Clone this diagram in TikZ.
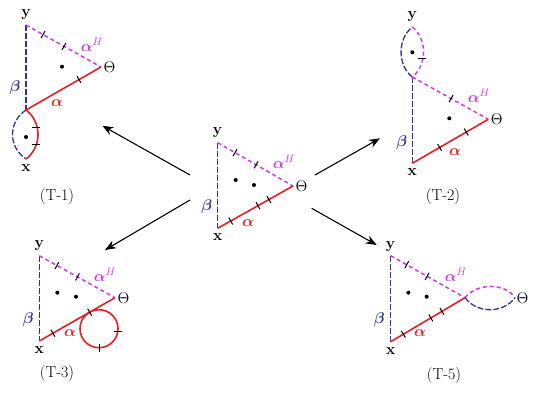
\RequirePackage{fix-cm}
\documentclass[tikz,border=0pt]{standalone}
\usepackage{amsmath}
\usepackage{amsfonts}
\usepackage{bm}
\usetikzlibrary{arrows,arrows.meta,calc,positioning}

\definecolor{alphared}{RGB}{232,30,38}
\definecolor{hmag}{RGB}{204,60,222}
\definecolor{betablue}{RGB}{50,50,150}

% tick across the segment #1--#2 at position #3
\newcommand{\tk}[3]{\draw[tickmk] ($(#1)!#3!(#2)!4pt!90:(#2)$) -- ($(#1)!#3!(#2)!4pt!-90:(#2)$);}

\begin{document}
\begin{tikzpicture}[x=1pt, y=-1pt, ->, >={Stealth[length=11pt, width=8.5pt]}, line width=1.1pt]
 % Define styles
	\tikzstyle{aedge} = [-, draw=alphared, line width=1.6pt]
	\tikzstyle{hedge} = [-, draw=hmag, line width=1.5pt, dash pattern=on 4pt off 3pt]
	\tikzstyle{bedge} = [-, draw=betablue, line width=1.3pt, dash pattern=on 6pt off 2pt]
	\tikzstyle{tickmk} = [-, draw=black, line width=1pt]
	\tikzstyle{dotpt} = [circle, fill=black, inner sep=0pt, minimum size=4pt]
	\tikzstyle{lbl} = [inner sep=0pt, font=\fontsize{15.5}{18}\selectfont]
	\tikzstyle{tcap} = [inner sep=0pt, font=\fontsize{16}{19}\selectfont]
	\useasboundingbox (0,0) rectangle (540,400);
%%====centre===============================================================
	\coordinate (cy) at (217.7,142.7);
	\coordinate (cx) at (217.7,228.3);
	\coordinate (ct) at (293,186);
	\draw[bedge] (cy) -- (cx);
	\draw[hedge] (cy) -- (ct);
	\draw[aedge] (cx) -- (ct);
	\tk{cy}{ct}{0.23} \tk{cy}{ct}{0.51}
	\tk{cx}{ct}{0.173} \tk{cx}{ct}{0.535} \tk{cx}{ct}{0.68}
	\node[dotpt] (cd1) at (235.7,180) {};
	\node[dotpt] (cd2) at (254,185) {};
	\node[lbl] (lcy) at (217.7,133) {$\mathbf{y}$};
	\node[lbl] (lcx) at (217.7,237) {$\mathbf{x}$};
	\node[lbl, right=2pt of ct] (lct) {$\Theta$};
	\node[lbl, text=hmag] (lch) at (284,162) {$\bm{\alpha}^H$};
	\node[lbl, text=betablue] (lcb) at (206.7,207) {$\bm{\beta}$};
	\node[lbl, text=alphared] (lca) at (248,223) {$\bm{\alpha}$};
%%====T-1===============================================================
	\coordinate (y1) at (26,25);
	\coordinate (j1) at (26,110);
	\coordinate (x1) at (26,159);
	\coordinate (t1) at (101,67);
	\draw[bedge] (y1) -- (j1);
	\draw[hedge] (y1) -- (t1);
	\draw[aedge] (j1) -- (t1);
	\draw[bedge] (j1) .. controls +(-18,12) and +(-18,-12) .. (x1);
	\draw[aedge] (j1) .. controls +(16,12) and +(16,-12) .. (x1);
	\tk{y1}{t1}{0.227} \tk{y1}{t1}{0.507}
	\tk{j1}{t1}{0.707}
	\draw[tickmk] (35.5,127) +(-4,0) -- +(4,0);
	\draw[tickmk] (35.5,144) +(-4,0) -- +(4,0);
	\node[dotpt] (d1a) at (62,66.7) {};
	\node[dotpt] (d1b) at (26,137) {};
	\node[lbl] (ly1) at (26,15) {$\mathbf{y}$};
	\node[lbl] (lx1) at (26,168) {$\mathbf{x}$};
	\node[lbl, right=2pt of t1] (lt1) {$\Theta$};
	\node[lbl, text=hmag] (lh1) at (92,45) {$\bm{\alpha}^H$};
	\node[lbl, text=betablue] (lb1) at (15,88) {$\bm{\beta}$};
	\node[lbl, text=alphared] (la1) at (57,103) {$\bm{\alpha}$};
	\node[tcap] (cap1) at (57,197) {(T-1)};
%%====T-2===============================================================
	\coordinate (y2) at (412.3,27);
	\coordinate (j2) at (412.3,77);
	\coordinate (x2) at (412.3,163.3);
	\coordinate (t2) at (488.3,119.3);
	\draw[bedge] (j2) -- (x2);
	\draw[hedge] (j2) -- (t2);
	\draw[aedge] (x2) -- (t2);
	\draw[bedge] (j2) .. controls +(-15,-12) and +(-15,12) .. (y2);
	\draw[hedge] (y2) .. controls +(15,12) and +(15,-12) .. (j2);
	\tk{j2}{t2}{0.51}
	\tk{x2}{t2}{0.36} \tk{x2}{t2}{0.71}
	\draw[tickmk] (422,58) +(-4,0) -- +(4,0);
	\node[dotpt] (d2a) at (449.3,118.3) {};
	\node[dotpt] (d2b) at (412.3,52.3) {};
	\node[lbl] (ly2) at (412.3,16.7) {$\mathbf{y}$};
	\node[lbl] (lx2) at (412.3,172) {$\mathbf{x}$};
	\node[lbl, right=2pt of t2] (lt2) {$\Theta$};
	\node[lbl, text=hmag] (lh2) at (479,96) {$\bm{\alpha}^H$};
	\node[lbl, text=betablue] (lb2) at (401.7,142.7) {$\bm{\beta}$};
	\node[lbl, text=alphared] (la2) at (455,151.7) {$\bm{\alpha}$};
	\node[tcap] (cap2) at (443,197) {(T-2)};
%%====T-3===============================================================
	\coordinate (y3) at (39.3,255.7);
	\coordinate (x3) at (39.3,341);
	\coordinate (t3) at (115,297.7);
	\coordinate (o3) at (99,328.7);
	\draw[bedge] (y3) -- (x3);
	\draw[hedge] (y3) -- (t3);
	\draw[aedge] (x3) -- (t3);
	\draw[aedge] (o3) circle[radius=19pt];
	\tk{y3}{t3}{0.233} \tk{y3}{t3}{0.504}
	\tk{x3}{t3}{0.18} \tk{x3}{t3}{0.665}
	\draw[tickmk] (117.8,331) +(-4,0) -- +(4,0);
	\draw[tickmk] (99,347.7) +(0,-4) -- +(0,4);
	\node[dotpt] (d3a) at (57.3,292.7) {};
	\node[dotpt] (d3b) at (76,296.7) {};
	\node[lbl] (ly3) at (39.3,245.7) {$\mathbf{y}$};
	\node[lbl] (lx3) at (39.3,350) {$\mathbf{x}$};
	\node[lbl, right=2pt of t3] (lt3) {$\Theta$};
	\node[lbl, text=hmag] (lh3) at (105,275) {$\bm{\alpha}^H$};
	\node[lbl, text=betablue] (lb3) at (28.3,320) {$\bm{\beta}$};
	\node[lbl, text=alphared] (la3) at (70,333.3) {$\bm{\alpha}$};
	\node[tcap] (cap3) at (57,373) {(T-3)};
%%====T-5===============================================================
	\coordinate (y5) at (390.7,255.7);
	\coordinate (x5) at (390.7,341.7);
	\coordinate (j5) at (465,297.7);
	\coordinate (t5) at (515,297.7);
	\draw[bedge] (y5) -- (x5);
	\draw[hedge] (y5) -- (j5);
	\draw[aedge] (x5) -- (j5);
	\draw[hedge] (j5) .. controls +(12,-15) and +(-10,-15) .. (t5);
	\draw[bedge] (j5) .. controls +(12,16) and +(-12,16) .. (t5);
	\tk{y5}{j5}{0.215} \tk{y5}{j5}{0.49}
	\tk{x5}{j5}{0.17} \tk{x5}{j5}{0.54} \tk{x5}{j5}{0.69}
	\node[dotpt] (d5a) at (408.3,292.7) {};
	\node[dotpt] (d5b) at (426.7,296.7) {};
	\node[lbl] (ly5) at (390.7,246.7) {$\mathbf{y}$};
	\node[lbl] (lx5) at (390.7,351) {$\mathbf{x}$};
	\node[lbl, right=1pt of t5] (lt5) {$\Theta$};
	\node[lbl, text=hmag] (lh5) at (456,275) {$\bm{\alpha}^H$};
	\node[lbl, text=betablue] (lb5) at (379.3,320) {$\bm{\beta}$};
	\node[lbl, text=alphared] (la5) at (420,333.3) {$\bm{\alpha}$};
	\node[tcap] (cap5) at (444,375) {(T-5)};
%%====arrows===============================================================
	\coordinate (s1) at (190,175);   \coordinate (e1) at (102.3,125.7);
	\coordinate (s2) at (315,175);   \coordinate (e2) at (380,138.3);
	\coordinate (s3) at (190,200);   \coordinate (e3) at (105,250);
	\coordinate (s5) at (311.7,208.3); \coordinate (e5) at (376.7,245);
	\draw (s1) -- (e1);
	\draw (s2) -- (e2);
	\draw (s3) -- (e3);
	\draw (s5) -- (e5);
\end{tikzpicture}
\end{document}
